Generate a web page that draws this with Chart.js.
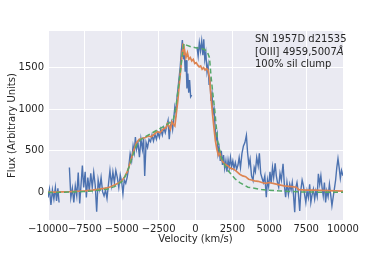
<!DOCTYPE html>
<html lang="en">
<head>
    <meta charset="utf-8"/>
    <script src="https://cdn.jsdelivr.net/npm/chart.js@4.4.0/dist/chart.umd.min.js"></script>
    <style>
        body { margin: 0; background: #ffffff; }
        #wrap { width: 382px; height: 259px; }
    </style>
</head>
<body>
    <div id="wrap"><canvas id="chart"></canvas></div>
    <script>
        // observed spectrum [velocity, flux], null = gap in the data
        const observed = [
            [-10000, -60], [-9900, 40], [-9800, -150], [-9700, 30], [-9600, -80], [-9500, 60],
            [-9420, -100], [-9330, 50], [-9250, -120], [-9000, null],
            [-8550, 300], [-8450, -60], [-8350, 50], [-8250, -120], [-8150, 80], [-8050, -40],
            [-7950, 240], [-7850, -130], [-7750, 120], [-7670, 325], [-7580, 60], [-7480, 250],
            [-7400, -60], [-7300, 180], [-7200, 20], [-7100, 230], [-7000, 60], [-6900, 240],
            [-6800, 90], [-6700, -230], [-6600, 150], [-6500, 40], [-6400, 180], [-6300, 10],
            [-6200, -40], [-6100, 30], [-6000, -70], [-5900, 100], [-5800, 265], [-5700, 90],
            [-5600, 245], [-5500, 120], [-5400, 265], [-5300, 180], [-5200, 60], [-5100, 210],
            [-5000, 120], [-4920, -15], [-4830, 150], [-4730, 110], [-4630, 185], [-4530, 300],
            [-4430, 465], [-4330, 380], [-4230, 560], [-4150, 480], [-4075, 665], [-4000, 520],
            [-3900, 600], [-3800, 425], [-3700, 640], [-3600, 520], [-3520, 660], [-3444, 200],
            [-3350, 600], [-3250, 540], [-3150, 640], [-3050, 610], [-2950, 690], [-2850, 620],
            [-2750, 700], [-2650, 640], [-2550, 720], [-2450, 660], [-2350, 760], [-2250, 690],
            [-2150, 780], [-2050, 720], [-1950, 800], [-1860, 866], [-1780, 640], [-1700, 800],
            [-1620, 850], [-1550, 760], [-1480, 880], [-1400, 1030], [-1320, 960], [-1250, 1150],
            [-1180, 1260], [-1100, 1400], [-1030, 1520], [-960, 1700], [-890, 1830], [-820, 1600],
            [-760, 1700], [-700, 1450], [-640, 1590], [-580, 1250], [-520, 1430], [-460, 1200],
            [-400, 1350], [-330, 1150], [-260, 1170], [-100, null],
            [100, 1750], [180, 1640], [260, 1800], [340, 1700], [420, 1820], [500, 1650],
            [560, 1840], [630, 1600], [700, 1680], [780, 1450], [850, 1530], [920, 1300],
            [980, 1380], [1050, 1100], [1120, 1180], [1190, 950], [1260, 1000], [1330, 780],
            [1400, 640], [1470, 700], [1530, 470], [1600, 540], [1680, 380], [1750, 500],
            [1830, 330], [1900, 450], [1980, 290], [2060, 380], [2130, 250], [2210, 390],
            [2290, 300], [2370, 420], [2450, 310], [2530, 380], [2610, 290], [2700, 360],
            [2790, 280], [2880, 330], [2960, 420], [3050, 300], [3150, 470], [3250, 560],
            [3350, 600], [3450, 686], [3530, 480], [3620, 330], [3700, 400], [3800, 200],
            [3900, 144], [3980, 300], [4060, 250], [4150, 420], [4250, 320], [4330, 470],
            [4420, 230], [4500, 180], [4600, 120], [4700, 200], [4800, -57], [4880, 150],
            [4960, 70], [5050, 250], [5130, 110], [5220, 300], [5300, 180], [5400, 350],
            [5480, 200], [5560, 120], [5640, 64], [5730, 230], [5820, 150], [5935, 345],
            [6030, 80], [6110, -57], [6200, 120], [6300, -20], [6390, 100], [6480, 30],
            [6560, 120], [6640, -20], [6726, -237], [6800, 60], [6880, 120], [6960, 20],
            [7065, -220], [7150, 40], [7230, 150], [7310, 90], [7400, -30], [7480, -120],
            [7560, 20], [7650, -60], [7740, 100], [7820, -120], [7900, -30], [7990, 40],
            [8080, -80], [8160, 20], [8250, -50], [8330, 225], [8420, 100], [8500, 200],
            [8580, 60], [8660, -40], [8740, 120], [8820, -120], [8900, 20], [8990, -50],
            [9080, 100], [9160, -20], [9250, -160], [9330, -60], [9420, 50], [9500, 150],
            [9580, 300], [9660, 408], [9740, 300], [9820, 170], [9900, 265], [10000, 200]
        ];

        // clumped model (orange)
        const clumpModel = [
            [-10000, 5], [-9500, 5], [-9000, 8], [-8500, 10], [-8000, 15], [-7500, 20],
            [-7000, 28], [-6500, 40], [-6000, 55], [-5750, 70], [-5500, 90], [-5250, 110],
            [-5000, 140], [-4800, 190], [-4600, 260], [-4400, 380], [-4200, 500], [-4000, 600],
            [-3800, 640], [-3600, 650], [-3400, 660], [-3200, 680], [-3000, 670], [-2800, 700],
            [-2600, 730], [-2400, 720], [-2200, 760], [-2000, 780], [-1900, 830], [-1800, 800],
            [-1700, 760], [-1600, 850], [-1500, 820], [-1400, 800], [-1300, 950], [-1200, 1100],
            [-1100, 1300], [-1000, 1480], [-900, 1700], [-850, 1790], [-800, 1650], [-750, 1720],
            [-650, 1620], [-550, 1680], [-450, 1600], [-350, 1620], [-250, 1580], [-150, 1600],
            [-50, 1550], [50, 1560], [150, 1530], [250, 1510], [350, 1520], [450, 1480],
            [550, 1500], [650, 1470], [750, 1490], [850, 1470], [950, 1380], [1050, 1150],
            [1150, 950], [1250, 780], [1350, 620], [1450, 520], [1550, 450], [1650, 480],
            [1750, 400], [1850, 370], [2000, 340], [2200, 320], [2400, 290], [2600, 280],
            [2800, 250], [3000, 220], [3200, 200], [3400, 190], [3600, 160], [3800, 150],
            [4000, 140], [4250, 135], [4500, 120], [4750, 110], [5000, 120], [5400, 104],
            [6000, 80], [6500, 70], [6840, 64], [7000, 35], [7500, 30], [8000, 28],
            [8500, 25], [9000, 22], [9500, 20], [10000, 18]
        ];

        // smooth model (green dashed)
        const smoothModel = [
            [-10000, 0], [-9000, 3], [-8000, 8], [-7000, 18], [-6000, 40], [-5500, 70],
            [-5000, 130], [-4750, 200], [-4500, 310], [-4250, 450], [-4000, 570], [-3750, 630],
            [-3500, 660], [-3000, 710], [-2500, 760], [-2000, 810], [-1750, 840], [-1500, 880],
            [-1350, 1000], [-1200, 1200], [-1050, 1420], [-900, 1650], [-780, 1790], [-600, 1770],
            [-300, 1750], [0, 1740], [300, 1735], [600, 1720], [800, 1690], [950, 1620],
            [1050, 1400], [1200, 1150], [1300, 1000], [1500, 620], [1750, 420], [2000, 320],
            [2200, 265], [2660, 168], [3000, 120], [3560, 64], [4470, 36], [5600, 20],
            [7000, 8], [8500, 4], [10000, 2]
        ];

        const xTicks = [-10000, -7500, -5000, -2500, 0, 2500, 5000, 7500, 10000];
        const yTicks = [0, 500, 1000, 1500];
        const labelLines = ["SN 1957D d21535", "[OIII] 4959,5007", "100% sil clump"];

        const textColor = "#262626";
        const font = { family: "DejaVu Sans", size: 10 };

        const minus = v => (v < 0 ? "\u2212" + Math.abs(v) : "" + v);

        // grey plot background + white canvas
        const background = {
            id: "background",
            beforeDraw(chart) {
                const { ctx, chartArea: a } = chart;
                ctx.save();
                ctx.fillStyle = "#ffffff";
                ctx.fillRect(0, 0, chart.width, chart.height);
                ctx.fillStyle = "#EAEAF2";
                ctx.fillRect(a.left, a.top, a.right - a.left, a.bottom - a.top);
                ctx.restore();
            }
        };

        // annotation text in the upper right
        const annotation = {
            id: "annotation",
            afterDraw(chart) {
                const { ctx, chartArea: a } = chart;
                const x = a.left + 207;
                const ys = [a.top + 8.5, a.top + 21, a.top + 33];
                ctx.save();
                ctx.fillStyle = textColor;
                ctx.font = "10px 'DejaVu Sans'";
                ctx.textBaseline = "middle";
                labelLines.forEach((t, i) => ctx.fillText(t, x, ys[i]));
                const w = ctx.measureText(labelLines[1]).width;
                ctx.font = "italic 10px 'DejaVu Sans'";
                ctx.fillText("\u00C5", x + w, ys[1]);
                ctx.restore();
            }
        };

        const config = {
            type: "line",
            data: {
                datasets: [
                    {
                        label: "observed",
                        data: observed,
                        borderColor: "#4C72B0",
                        borderWidth: 1.4,
                        pointRadius: 0,
                        spanGaps: false,
                        order: 3
                    },
                    {
                        label: "clump",
                        data: clumpModel,
                        borderColor: "#DD8452",
                        borderWidth: 1.7,
                        pointRadius: 0,
                        order: 2
                    },
                    {
                        label: "smooth",
                        data: smoothModel,
                        borderColor: "#55A868",
                        borderWidth: 1.5,
                        borderDash: [5, 3],
                        pointRadius: 0,
                        order: 1
                    }
                ]
            },
            options: {
                responsive: true,
                maintainAspectRatio: false,
                animation: false,
                layout: { padding: { top: 31, right: 39, left: 0, bottom: 0 } },
                plugins: { legend: { display: false }, tooltip: { enabled: false } },
                scales: {
                    x: {
                        type: "linear",
                        min: -10000,
                        max: 10000,
                        afterBuildTicks: s => { s.ticks = xTicks.map(v => ({ value: v })); },
                        afterFit: s => { s.height = 39; },
                        border: { display: false },
                        grid: { color: "#ffffff", lineWidth: 1, drawTicks: false },
                        ticks: {
                            autoSkip: false,
                            maxRotation: 0,
                            padding: 3,
                            color: textColor,
                            font: font,
                            callback: v => minus(v)
                        },
                        title: {
                            display: true,
                            text: "Velocity (km/s)",
                            color: textColor,
                            font: font,
                            padding: { top: 0, bottom: 14 }
                        }
                    },
                    y: {
                        min: -330,
                        max: 1940,
                        afterBuildTicks: s => { s.ticks = yTicks.map(v => ({ value: v })); },
                        afterFit: s => { s.width = 48; },
                        border: { display: false },
                        grid: { color: "#ffffff", lineWidth: 1, drawTicks: false },
                        ticks: {
                            padding: 4,
                            color: textColor,
                            font: font,
                            callback: v => minus(v)
                        },
                        title: {
                            display: true,
                            text: "Flux (Arbitrary Units)",
                            color: textColor,
                            font: font,
                            padding: { top: 6, bottom: 0 }
                        }
                    }
                }
            },
            plugins: [background, annotation]
        };

        new Chart(document.getElementById("chart"), config);
    </script>
</body>
</html>
